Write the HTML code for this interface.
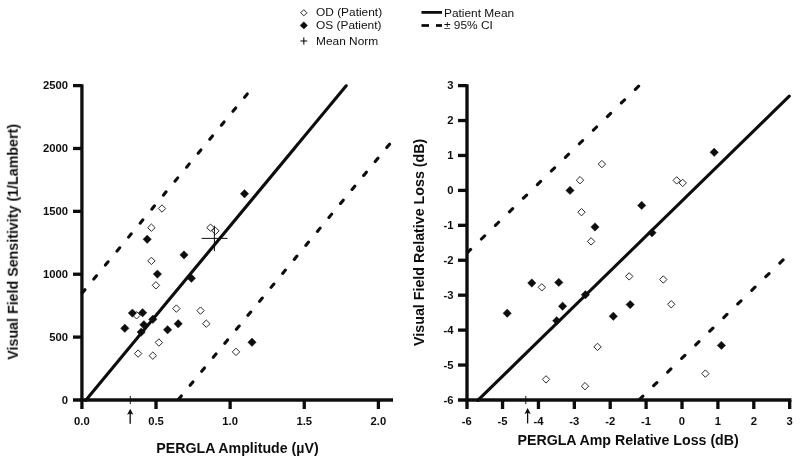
<!DOCTYPE html>
<html><head><meta charset="utf-8"><title>PERGLA vs Visual Field</title>
<style>html,body{margin:0;padding:0;background:#fff;}body{width:800px;height:462px;overflow:hidden;font-family:"Liberation Sans",sans-serif;}svg{display:block;position:absolute;left:0;top:0;}text{font-family:"Liberation Sans",sans-serif;fill:#111;}</style>
</head><body>
<svg width="800" height="462" viewBox="0 0 800 462">
<defs><filter id="soft" x="0" y="0" width="800" height="462" filterUnits="userSpaceOnUse"><feGaussianBlur stdDeviation="0.42"/></filter></defs>
<rect x="0" y="0" width="800" height="462" fill="#ffffff"/>
<g filter="url(#soft)">
<g id="legend">
<polygon points="303.80,9.70 306.90,12.80 303.80,15.90 300.70,12.80" fill="#ffffff" stroke="#262626" stroke-width="0.98"/>
<polygon points="303.80,21.70 307.50,25.40 303.80,29.10 300.10,25.40" fill="#0a0a0a" stroke="#0a0a0a" stroke-width="0.4"/>
<path d="M300.4 41H307.2M303.8 37.6V44.4" stroke="#0a0a0a" stroke-width="1.1" fill="none"/>
<text transform="translate(316 16.4) scale(1.058 1)" font-size="11.25">OD (Patient)</text>
<text transform="translate(316 28.7) scale(1.058 1)" font-size="11.25">OS (Patient)</text>
<text transform="translate(316 44.5) scale(1.058 1)" font-size="11.25">Mean Norm</text>
<line x1="421.5" y1="12.4" x2="442" y2="12.4" stroke="#0a0a0a" stroke-width="2.8"/>
<line x1="421.5" y1="25.5" x2="429" y2="25.5" stroke="#0a0a0a" stroke-width="2.8"/>
<line x1="436" y1="25.5" x2="442" y2="25.5" stroke="#0a0a0a" stroke-width="2.8"/>
<text transform="translate(444 16.6) scale(1.058 1)" font-size="11.25">Patient Mean</text>
<text transform="translate(444 29.4) scale(1.058 1)" font-size="11.25">± 95% CI</text>
</g>
<g id="left">
<line x1="81.9" y1="84.2" x2="81.9" y2="409" stroke="#0a0a0a" stroke-width="3.3"/>
<line x1="73" y1="400.0" x2="393" y2="400.0" stroke="#0a0a0a" stroke-width="3.3"/>
<line x1="73" y1="337.12" x2="81.9" y2="337.12" stroke="#0a0a0a" stroke-width="3.3"/>
<line x1="73" y1="274.24" x2="81.9" y2="274.24" stroke="#0a0a0a" stroke-width="3.3"/>
<line x1="73" y1="211.36" x2="81.9" y2="211.36" stroke="#0a0a0a" stroke-width="3.3"/>
<line x1="73" y1="148.48" x2="81.9" y2="148.48" stroke="#0a0a0a" stroke-width="3.3"/>
<line x1="73" y1="85.60" x2="81.9" y2="85.60" stroke="#0a0a0a" stroke-width="3.3"/>
<text x="68" y="403.70" font-size="11.25" font-weight="bold" text-anchor="end">0</text>
<text x="68" y="340.82" font-size="11.25" font-weight="bold" text-anchor="end">500</text>
<text x="68" y="277.94" font-size="11.25" font-weight="bold" text-anchor="end">1000</text>
<text x="68" y="215.06" font-size="11.25" font-weight="bold" text-anchor="end">1500</text>
<text x="68" y="152.18" font-size="11.25" font-weight="bold" text-anchor="end">2000</text>
<text x="68" y="89.30" font-size="11.25" font-weight="bold" text-anchor="end">2500</text>
<line x1="156.03" y1="400.0" x2="156.03" y2="409" stroke="#0a0a0a" stroke-width="3.3"/>
<line x1="230.15" y1="400.0" x2="230.15" y2="409" stroke="#0a0a0a" stroke-width="3.3"/>
<line x1="304.27" y1="400.0" x2="304.27" y2="409" stroke="#0a0a0a" stroke-width="3.3"/>
<line x1="378.40" y1="400.0" x2="378.40" y2="409" stroke="#0a0a0a" stroke-width="3.3"/>
<text x="81.90" y="425.1" font-size="11.25" font-weight="bold" text-anchor="middle">0.0</text>
<text x="156.03" y="425.1" font-size="11.25" font-weight="bold" text-anchor="middle">0.5</text>
<text x="230.15" y="425.1" font-size="11.25" font-weight="bold" text-anchor="middle">1.0</text>
<text x="304.27" y="425.1" font-size="11.25" font-weight="bold" text-anchor="middle">1.5</text>
<text x="378.40" y="425.1" font-size="11.25" font-weight="bold" text-anchor="middle">2.0</text>
<text x="156.3" y="453.2" font-size="14.2" font-weight="bold">PERGLA Amplitude (µV)</text>
<text transform="translate(17.8 359.7) rotate(-90)" font-size="14.26" font-weight="bold">Visual Field Sensitivity (1/Lambert)</text>
<line x1="85.6" y1="400.4" x2="346.2" y2="85.8" stroke="#0a0a0a" stroke-width="3.1" stroke-linecap="round"/>
<line x1="81" y1="294.5" x2="248.5" y2="92.5" stroke="#0a0a0a" stroke-width="3.1" stroke-dasharray="4.3 13.87" stroke-dashoffset="-1.85" stroke-linecap="round"/>
<line x1="177.4" y1="400.7" x2="390.5" y2="143" stroke="#0a0a0a" stroke-width="3.1" stroke-dasharray="4.3 13.85" stroke-dashoffset="-1.85" stroke-linecap="round"/>
<line x1="130.3" y1="396" x2="130.3" y2="404" stroke="#0a0a0a" stroke-width="1"/>
<path d="M130.2 413V423.8" stroke="#0a0a0a" stroke-width="1.3" fill="none"/>
<path d="M130.2 408.8L133.3 414.8L130.2 413.6L127.1 414.8Z" fill="#0a0a0a"/>
<polygon points="162.00,204.80 165.70,208.50 162.00,212.20 158.30,208.50" fill="#ffffff" stroke="#262626" stroke-width="0.98"/>
<polygon points="151.40,224.00 155.10,227.70 151.40,231.40 147.70,227.70" fill="#ffffff" stroke="#262626" stroke-width="0.98"/>
<polygon points="215.40,227.20 219.10,230.90 215.40,234.60 211.70,230.90" fill="#ffffff" stroke="#262626" stroke-width="0.98"/>
<polygon points="210.50,224.00 214.20,227.70 210.50,231.40 206.80,227.70" fill="#ffffff" stroke="#262626" stroke-width="0.98"/>
<polygon points="151.40,257.20 155.10,260.90 151.40,264.60 147.70,260.90" fill="#ffffff" stroke="#262626" stroke-width="0.98"/>
<polygon points="155.90,281.60 159.60,285.30 155.90,289.00 152.20,285.30" fill="#ffffff" stroke="#262626" stroke-width="0.98"/>
<polygon points="176.40,304.90 180.10,308.60 176.40,312.30 172.70,308.60" fill="#ffffff" stroke="#262626" stroke-width="0.98"/>
<polygon points="200.50,306.90 204.20,310.60 200.50,314.30 196.80,310.60" fill="#ffffff" stroke="#262626" stroke-width="0.98"/>
<polygon points="136.60,311.60 140.30,315.30 136.60,319.00 132.90,315.30" fill="#ffffff" stroke="#262626" stroke-width="0.98"/>
<polygon points="206.30,320.00 210.00,323.70 206.30,327.40 202.60,323.70" fill="#ffffff" stroke="#262626" stroke-width="0.98"/>
<polygon points="158.90,338.80 162.60,342.50 158.90,346.20 155.20,342.50" fill="#ffffff" stroke="#262626" stroke-width="0.98"/>
<polygon points="138.10,349.90 141.80,353.60 138.10,357.30 134.40,353.60" fill="#ffffff" stroke="#262626" stroke-width="0.98"/>
<polygon points="236.00,348.20 239.70,351.90 236.00,355.60 232.30,351.90" fill="#ffffff" stroke="#262626" stroke-width="0.98"/>
<polygon points="152.80,352.00 156.50,355.70 152.80,359.40 149.10,355.70" fill="#ffffff" stroke="#262626" stroke-width="0.98"/>
<polygon points="244.50,189.50 248.70,193.70 244.50,197.90 240.30,193.70" fill="#0a0a0a" stroke="#0a0a0a" stroke-width="0.4"/>
<polygon points="147.20,235.10 151.40,239.30 147.20,243.50 143.00,239.30" fill="#0a0a0a" stroke="#0a0a0a" stroke-width="0.4"/>
<polygon points="184.00,250.70 188.20,254.90 184.00,259.10 179.80,254.90" fill="#0a0a0a" stroke="#0a0a0a" stroke-width="0.4"/>
<polygon points="157.40,269.90 161.60,274.10 157.40,278.30 153.20,274.10" fill="#0a0a0a" stroke="#0a0a0a" stroke-width="0.4"/>
<polygon points="191.40,274.10 195.60,278.30 191.40,282.50 187.20,278.30" fill="#0a0a0a" stroke="#0a0a0a" stroke-width="0.4"/>
<polygon points="132.40,308.90 136.60,313.10 132.40,317.30 128.20,313.10" fill="#0a0a0a" stroke="#0a0a0a" stroke-width="0.4"/>
<polygon points="142.60,308.50 146.80,312.70 142.60,316.90 138.40,312.70" fill="#0a0a0a" stroke="#0a0a0a" stroke-width="0.4"/>
<polygon points="152.80,315.10 157.00,319.30 152.80,323.50 148.60,319.30" fill="#0a0a0a" stroke="#0a0a0a" stroke-width="0.4"/>
<polygon points="178.20,319.60 182.40,323.80 178.20,328.00 174.00,323.80" fill="#0a0a0a" stroke="#0a0a0a" stroke-width="0.4"/>
<polygon points="143.90,320.60 148.10,324.80 143.90,329.00 139.70,324.80" fill="#0a0a0a" stroke="#0a0a0a" stroke-width="0.4"/>
<polygon points="124.80,324.10 129.00,328.30 124.80,332.50 120.60,328.30" fill="#0a0a0a" stroke="#0a0a0a" stroke-width="0.4"/>
<polygon points="167.60,325.60 171.80,329.80 167.60,334.00 163.40,329.80" fill="#0a0a0a" stroke="#0a0a0a" stroke-width="0.4"/>
<polygon points="141.20,327.90 145.40,332.10 141.20,336.30 137.00,332.10" fill="#0a0a0a" stroke="#0a0a0a" stroke-width="0.4"/>
<polygon points="252.00,338.10 256.20,342.30 252.00,346.50 247.80,342.30" fill="#0a0a0a" stroke="#0a0a0a" stroke-width="0.4"/>
<path d="M201.6 238.4H227.5M214.4 225.7V251.2" stroke="#0a0a0a" stroke-width="1" fill="none"/>
</g>
<g id="right">
<line x1="467.0" y1="84.2" x2="467.0" y2="409" stroke="#0a0a0a" stroke-width="3.3"/>
<line x1="458" y1="400.0" x2="791.4" y2="400.0" stroke="#0a0a0a" stroke-width="3.3"/>
<line x1="458" y1="365.07" x2="467.0" y2="365.07" stroke="#0a0a0a" stroke-width="3.3"/>
<line x1="458" y1="330.13" x2="467.0" y2="330.13" stroke="#0a0a0a" stroke-width="3.3"/>
<line x1="458" y1="295.20" x2="467.0" y2="295.20" stroke="#0a0a0a" stroke-width="3.3"/>
<line x1="458" y1="260.27" x2="467.0" y2="260.27" stroke="#0a0a0a" stroke-width="3.3"/>
<line x1="458" y1="225.33" x2="467.0" y2="225.33" stroke="#0a0a0a" stroke-width="3.3"/>
<line x1="458" y1="190.40" x2="467.0" y2="190.40" stroke="#0a0a0a" stroke-width="3.3"/>
<line x1="458" y1="155.47" x2="467.0" y2="155.47" stroke="#0a0a0a" stroke-width="3.3"/>
<line x1="458" y1="120.53" x2="467.0" y2="120.53" stroke="#0a0a0a" stroke-width="3.3"/>
<line x1="458" y1="85.60" x2="467.0" y2="85.60" stroke="#0a0a0a" stroke-width="3.3"/>
<text x="453.6" y="403.50" font-size="11.25" font-weight="bold" text-anchor="end">-6</text>
<text x="453.6" y="368.57" font-size="11.25" font-weight="bold" text-anchor="end">-5</text>
<text x="453.6" y="333.63" font-size="11.25" font-weight="bold" text-anchor="end">-4</text>
<text x="453.6" y="298.70" font-size="11.25" font-weight="bold" text-anchor="end">-3</text>
<text x="453.6" y="263.77" font-size="11.25" font-weight="bold" text-anchor="end">-2</text>
<text x="453.6" y="228.83" font-size="11.25" font-weight="bold" text-anchor="end">-1</text>
<text x="453.6" y="193.90" font-size="11.25" font-weight="bold" text-anchor="end">0</text>
<text x="453.6" y="158.97" font-size="11.25" font-weight="bold" text-anchor="end">1</text>
<text x="453.6" y="124.03" font-size="11.25" font-weight="bold" text-anchor="end">2</text>
<text x="453.6" y="89.10" font-size="11.25" font-weight="bold" text-anchor="end">3</text>
<line x1="502.55" y1="400.0" x2="502.55" y2="409" stroke="#0a0a0a" stroke-width="3.3"/>
<line x1="538.44" y1="400.0" x2="538.44" y2="409" stroke="#0a0a0a" stroke-width="3.3"/>
<line x1="574.33" y1="400.0" x2="574.33" y2="409" stroke="#0a0a0a" stroke-width="3.3"/>
<line x1="610.22" y1="400.0" x2="610.22" y2="409" stroke="#0a0a0a" stroke-width="3.3"/>
<line x1="646.11" y1="400.0" x2="646.11" y2="409" stroke="#0a0a0a" stroke-width="3.3"/>
<line x1="682.00" y1="400.0" x2="682.00" y2="409" stroke="#0a0a0a" stroke-width="3.3"/>
<line x1="717.89" y1="400.0" x2="717.89" y2="409" stroke="#0a0a0a" stroke-width="3.3"/>
<line x1="753.78" y1="400.0" x2="753.78" y2="409" stroke="#0a0a0a" stroke-width="3.3"/>
<line x1="789.67" y1="400.0" x2="789.67" y2="409" stroke="#0a0a0a" stroke-width="3.3"/>
<text x="466.66" y="425.1" font-size="11.25" font-weight="bold" text-anchor="middle">-6</text>
<text x="502.55" y="425.1" font-size="11.25" font-weight="bold" text-anchor="middle">-5</text>
<text x="538.44" y="425.1" font-size="11.25" font-weight="bold" text-anchor="middle">-4</text>
<text x="574.33" y="425.1" font-size="11.25" font-weight="bold" text-anchor="middle">-3</text>
<text x="610.22" y="425.1" font-size="11.25" font-weight="bold" text-anchor="middle">-2</text>
<text x="646.11" y="425.1" font-size="11.25" font-weight="bold" text-anchor="middle">-1</text>
<text x="682.00" y="425.1" font-size="11.25" font-weight="bold" text-anchor="middle">0</text>
<text x="717.89" y="425.1" font-size="11.25" font-weight="bold" text-anchor="middle">1</text>
<text x="753.78" y="425.1" font-size="11.25" font-weight="bold" text-anchor="middle">2</text>
<text x="789.67" y="425.1" font-size="11.25" font-weight="bold" text-anchor="middle">3</text>
<text x="517.5" y="445.4" font-size="14.2" font-weight="bold">PERGLA Amp Relative Loss (dB)</text>
<text transform="translate(424.1 345.9) rotate(-90)" font-size="14.26" font-weight="bold">Visual Field Relative Loss (dB)</text>
<line x1="477.8" y1="400.3" x2="789.3" y2="96.2" stroke="#0a0a0a" stroke-width="3.1" stroke-linecap="round"/>
<line x1="466" y1="254" x2="640" y2="84.8" stroke="#0a0a0a" stroke-width="3.1" stroke-dasharray="4.5 15.02" stroke-dashoffset="-2.0" stroke-linecap="round"/>
<line x1="638.2" y1="400.7" x2="784.5" y2="258.5" stroke="#0a0a0a" stroke-width="3.1" stroke-dasharray="4.5 15.05" stroke-dashoffset="-2.0" stroke-linecap="round"/>
<line x1="525.8" y1="396" x2="525.8" y2="404" stroke="#0a0a0a" stroke-width="1"/>
<path d="M527.6 412V423.4" stroke="#0a0a0a" stroke-width="1.3" fill="none"/>
<path d="M527.6 407.9L530.7 413.9L527.6 412.7L524.5 413.9Z" fill="#0a0a0a"/>
<polygon points="601.90,160.40 605.60,164.10 601.90,167.80 598.20,164.10" fill="#ffffff" stroke="#262626" stroke-width="0.98"/>
<polygon points="580.00,176.50 583.70,180.20 580.00,183.90 576.30,180.20" fill="#ffffff" stroke="#262626" stroke-width="0.98"/>
<polygon points="581.50,208.50 585.20,212.20 581.50,215.90 577.80,212.20" fill="#ffffff" stroke="#262626" stroke-width="0.98"/>
<polygon points="676.70,176.70 680.40,180.40 676.70,184.10 673.00,180.40" fill="#ffffff" stroke="#262626" stroke-width="0.98"/>
<polygon points="682.70,179.20 686.40,182.90 682.70,186.60 679.00,182.90" fill="#ffffff" stroke="#262626" stroke-width="0.98"/>
<polygon points="591.10,237.70 594.80,241.40 591.10,245.10 587.40,241.40" fill="#ffffff" stroke="#262626" stroke-width="0.98"/>
<polygon points="541.80,283.60 545.50,287.30 541.80,291.00 538.10,287.30" fill="#ffffff" stroke="#262626" stroke-width="0.98"/>
<polygon points="629.20,272.70 632.90,276.40 629.20,280.10 625.50,276.40" fill="#ffffff" stroke="#262626" stroke-width="0.98"/>
<polygon points="663.25,275.80 666.95,279.50 663.25,283.20 659.55,279.50" fill="#ffffff" stroke="#262626" stroke-width="0.98"/>
<polygon points="671.25,300.55 674.95,304.25 671.25,307.95 667.55,304.25" fill="#ffffff" stroke="#262626" stroke-width="0.98"/>
<polygon points="597.50,343.20 601.20,346.90 597.50,350.60 593.80,346.90" fill="#ffffff" stroke="#262626" stroke-width="0.98"/>
<polygon points="546.00,375.70 549.70,379.40 546.00,383.10 542.30,379.40" fill="#ffffff" stroke="#262626" stroke-width="0.98"/>
<polygon points="585.00,382.50 588.70,386.20 585.00,389.90 581.30,386.20" fill="#ffffff" stroke="#262626" stroke-width="0.98"/>
<polygon points="705.40,369.90 709.10,373.60 705.40,377.30 701.70,373.60" fill="#ffffff" stroke="#262626" stroke-width="0.98"/>
<polygon points="714.20,148.10 718.40,152.30 714.20,156.50 710.00,152.30" fill="#0a0a0a" stroke="#0a0a0a" stroke-width="0.4"/>
<polygon points="570.00,186.20 574.20,190.40 570.00,194.60 565.80,190.40" fill="#0a0a0a" stroke="#0a0a0a" stroke-width="0.4"/>
<polygon points="641.70,201.20 645.90,205.40 641.70,209.60 637.50,205.40" fill="#0a0a0a" stroke="#0a0a0a" stroke-width="0.4"/>
<polygon points="595.00,222.80 599.20,227.00 595.00,231.20 590.80,227.00" fill="#0a0a0a" stroke="#0a0a0a" stroke-width="0.4"/>
<polygon points="652.00,228.50 656.20,232.70 652.00,236.90 647.80,232.70" fill="#0a0a0a" stroke="#0a0a0a" stroke-width="0.4"/>
<polygon points="531.80,278.80 536.00,283.00 531.80,287.20 527.60,283.00" fill="#0a0a0a" stroke="#0a0a0a" stroke-width="0.4"/>
<polygon points="558.80,278.20 563.00,282.40 558.80,286.60 554.60,282.40" fill="#0a0a0a" stroke="#0a0a0a" stroke-width="0.4"/>
<polygon points="585.40,290.50 589.60,294.70 585.40,298.90 581.20,294.70" fill="#0a0a0a" stroke="#0a0a0a" stroke-width="0.4"/>
<polygon points="562.60,302.00 566.80,306.20 562.60,310.40 558.40,306.20" fill="#0a0a0a" stroke="#0a0a0a" stroke-width="0.4"/>
<polygon points="507.20,309.00 511.40,313.20 507.20,317.40 503.00,313.20" fill="#0a0a0a" stroke="#0a0a0a" stroke-width="0.4"/>
<polygon points="613.30,312.10 617.50,316.30 613.30,320.50 609.10,316.30" fill="#0a0a0a" stroke="#0a0a0a" stroke-width="0.4"/>
<polygon points="630.20,300.40 634.40,304.60 630.20,308.80 626.00,304.60" fill="#0a0a0a" stroke="#0a0a0a" stroke-width="0.4"/>
<polygon points="556.70,316.60 560.90,320.80 556.70,325.00 552.50,320.80" fill="#0a0a0a" stroke="#0a0a0a" stroke-width="0.4"/>
<polygon points="721.40,341.20 725.60,345.40 721.40,349.60 717.20,345.40" fill="#0a0a0a" stroke="#0a0a0a" stroke-width="0.4"/>
</g>
</g>
</svg>
</body></html>
